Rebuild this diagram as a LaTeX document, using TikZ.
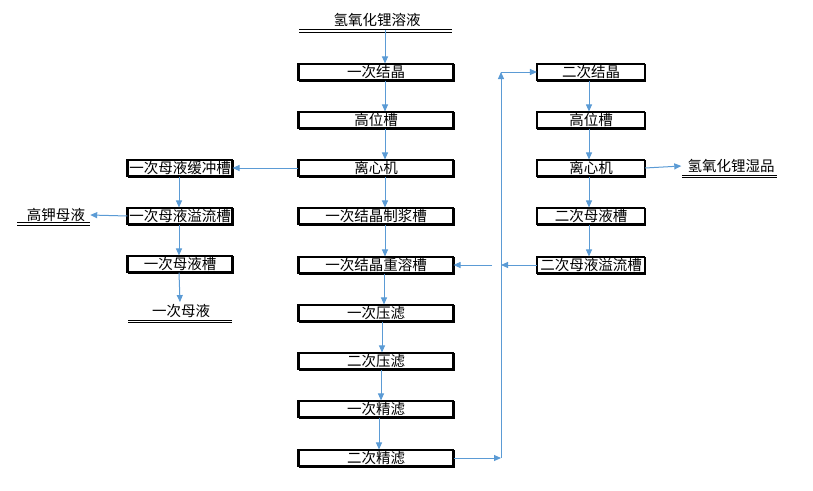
\documentclass[tikz,border=0pt]{standalone}
\usepackage{fontspec}
\setmainfont{Noto Sans CJK SC}
\usetikzlibrary{arrows.meta}
\definecolor{ab}{RGB}{91,155,213}
\begin{document}
\begin{tikzpicture}[x=1pt,y=-1pt,
  box/.style={draw,line width=1.1pt,minimum height=16pt,inner sep=0pt,font=\fontsize{14.5}{15}\selectfont},
  conn/.style={ab,line width=1pt,-{Triangle[width=6pt,length=7pt]}},
  term/.style={inner sep=0pt,font=\fontsize{14.5}{15}\selectfont},
  uline/.style={line width=0.7pt}]
\useasboundingbox (0,0) rectangle (813,490);
\newcommand\shbox[5]{%
  \node[box,minimum width=#4pt] (#1) at (#2,#3) {#5};
  \draw[line width=2.4pt] ([xshift=0.5pt]#1.south west) -- (#1.south east) -- ([yshift=-0.5pt]#1.north east);
  \draw[line width=2pt] (#1.south west) -- (#1.north west);}
\newcommand\dline[3]{%
  \draw[uline] (#1,#3) -- (#2,#3);
  \draw[uline] (#1,#3+2.6) -- (#2,#3+2.6);}
% main column
\node[term] (top) at (377,20) {氢氧化锂溶液};
\dline{299}{452}{29.5}
\shbox{m1}{376}{72}{154}{一次结晶}
\shbox{m2}{376}{120}{154}{高位槽}
\shbox{m3}{376}{168}{154}{离心机}
\shbox{m4}{376}{216}{154}{一次结晶制浆槽}
\shbox{m5}{376}{265}{154}{一次结晶重溶槽}
\shbox{m6}{376}{313}{154}{一次压滤}
\shbox{m7}{376}{361}{154}{二次压滤}
\shbox{m8}{376}{409}{154}{一次精滤}
\shbox{m9}{376}{458}{154}{二次精滤}
% left column
\shbox{l1}{180}{168}{104}{一次母液缓冲槽}
\shbox{l2}{180}{216}{104}{一次母液溢流槽}
\shbox{l3}{180}{264}{104}{一次母液槽}
\node[term] (l4) at (181,311) {一次母液};
\dline{128}{232}{320}
\node[term] (k) at (56,215) {高钾母液};
\dline{17}{90}{222.5}
% right column
\shbox{r1}{591}{72}{107}{二次结晶}
\shbox{r2}{591}{120}{107}{高位槽}
\shbox{r3}{591}{168}{107}{离心机}
\shbox{r4}{591}{216}{107}{二次母液槽}
\shbox{r5}{591}{265}{107}{二次母液溢流槽}
\node[term] (wet) at (731,166) {氢氧化锂湿品};
\dline{682}{777}{175}
\coordinate (vb) at (501,458);
\coordinate (vt) at (501,72);
\coordinate (vm) at (501,265);
\coordinate (vl) at (492,265);
% connectors
\draw[conn] ([xshift=8pt]top.south |- 0,30) -- ([xshift=9pt]m1.north);
\draw[conn] ([xshift=9pt]m1.south) -- ([xshift=9pt]m2.north);
\draw[conn] ([xshift=9pt]m2.south) -- ([xshift=9pt]m3.north);
\draw[conn] ([xshift=9pt]m3.south) -- ([xshift=9pt]m4.north);
\draw[conn] ([xshift=9pt]m4.south) -- ([xshift=9pt]m5.north);
\draw[conn] ([xshift=8pt]m5.south) -- ([xshift=8pt]m6.north);
\draw[conn] ([xshift=6pt]m6.south) -- ([xshift=6pt]m7.north);
\draw[conn] ([xshift=5pt]m7.south) -- ([xshift=5pt]m8.north);
\draw[conn] ([xshift=3pt]m8.south) -- ([xshift=3pt]m9.north);
\draw[conn] (m3.west) -- (l1.east);
\draw[conn] ([xshift=-1pt]l1.south) -- ([xshift=-1pt]l2.north);
\draw[conn] ([xshift=-1pt]l2.south) -- ([xshift=-1pt]l3.north);
\draw[conn] ([xshift=-1pt]l3.south) -- ([xshift=-1pt,yshift=2pt]l4.north);
\draw[conn] (l2.west) -- ([xshift=5pt]k.east);
\draw[conn] (m9.east) -- (vb);
\draw[conn] (vb) -- (vt);
\draw[conn] (vt) -- (r1.west);
\draw[conn] ([xshift=-2pt]r1.south) -- ([xshift=-2pt]r2.north);
\draw[conn] ([xshift=-2pt]r2.south) -- ([xshift=-2pt]r3.north);
\draw[conn] ([xshift=-2pt]r3.south) -- ([xshift=-2pt]r4.north);
\draw[conn] ([xshift=-2pt]r4.south) -- ([xshift=-2pt]r5.north);
\draw[conn] (r3.east) -- ([xshift=-6pt]wet.west);
\draw[conn] (r5.west) -- (vm);
\draw[conn] (vl) -- (m5.east);
\end{tikzpicture}
\end{document}
